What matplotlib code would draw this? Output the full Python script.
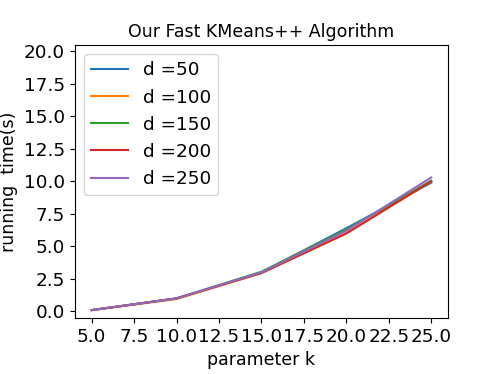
import matplotlib
matplotlib.use("Agg")
import matplotlib.pyplot as plt

k = [5, 10, 15, 20, 25]
d50 = [0.1, 1.0, 3.0, 6.4, 9.9]
d100 = [0.1, 0.95, 2.95, 6.0, 10.0]
d150 = [0.1, 1.0, 3.05, 6.3, 10.05]
d200 = [0.1, 1.0, 2.95, 6.0, 10.0]
d250 = [0.1, 1.0, 3.0, 6.2, 10.3]
labels = ["d =50", "d =100", "d =150", "d =200", "d =250"]

fig, ax = plt.subplots(figsize=(4.98, 3.74), dpi=100)
for ys, lab in zip([d50, d100, d150, d200, d250], labels):
    ax.plot(k, ys, label=lab)

ax.set_ylim(-0.5, 20.5)
ax.set_yticks([0, 2.5, 5, 7.5, 10, 12.5, 15, 17.5, 20])
ax.set_xticks([5, 7.5, 10, 12.5, 15, 17.5, 20, 22.5, 25])
ax.tick_params(labelsize=13.2)
ax.set_title("Our Fast KMeans++ Algorithm", fontsize=12.5)
ax.set_xlabel("parameter k", fontsize=12.5)
ax.set_ylabel("running  time(s)", fontsize=12.5)
ax.legend(loc="upper left", fontsize=13.2)
plt.subplots_adjust(left=0.15, right=0.9, bottom=0.15, top=0.88)
plt.savefig("out.png")
plt.close()
